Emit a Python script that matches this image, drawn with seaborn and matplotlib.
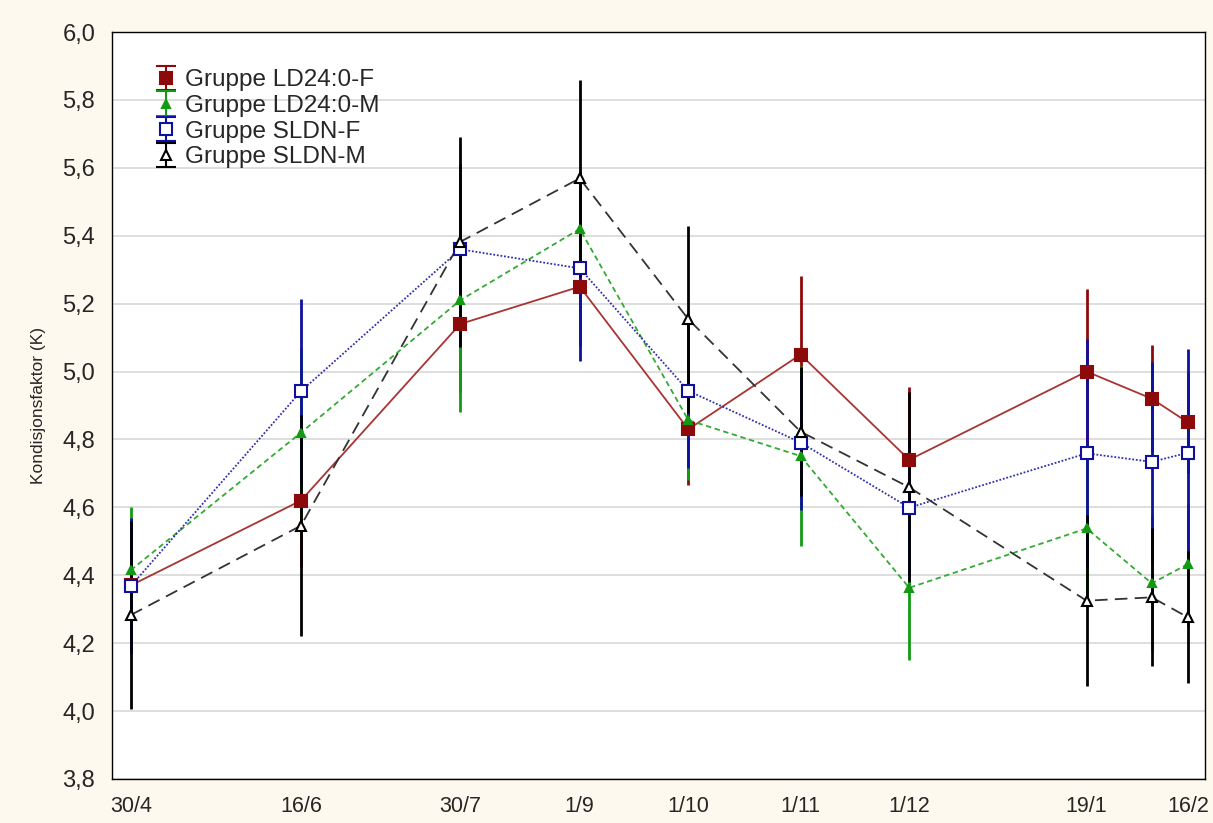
import pandas as pd
import numpy as np
import matplotlib.pyplot as plt
import seaborn as sns

# Datoer for målingene (dag/måned)
dates = ['2007-04-30', '2007-06-16', '2007-07-30', '2007-09-01', '2007-10-01',
         '2007-11-01', '2007-12-01', '2008-01-19', '2008-02-06', '2008-02-16']
tick_labels = ['30/4', '16/6', '30/7', '1/9', '1/10', '1/11', '1/12', '19/1', '', '16/2']

groups = ['Gruppe LD24:0-F', 'Gruppe LD24:0-M', 'Gruppe SLDN-F', 'Gruppe SLDN-M']

# Gjennomsnitt og feilgrenser
ld_f = [4.37, 4.62, 5.14, 5.25, 4.83, 5.05, 4.74, 5.00, 4.92, 4.85]
ld_f_err = [0.15, 0.195, 0.20, 0.175, 0.165, 0.232, 0.213, 0.244, 0.157, 0.15]
ld_m = [4.415, 4.82, 5.21, 5.42, 4.857, 4.751, 4.363, 4.538, 4.376, 4.433]
ld_m_err = [0.185, 0.25, 0.33, 0.172, 0.177, 0.264, 0.213, 0.20, 0.20, 0.181]
sl_f = [4.368, 4.942, 5.36, 5.304, 4.943, 4.791, 4.599, 4.759, 4.734, 4.761]
sl_f_err = [0.20, 0.271, 0.25, 0.273, 0.228, 0.20, 0.20, 0.336, 0.295, 0.304]
sl_m = [4.283, 4.546, 5.382, 5.569, 5.154, 4.823, 4.659, 4.325, 4.335, 4.276]
sl_m_err = [0.277, 0.325, 0.31, 0.29, 0.275, 0.19, 0.28, 0.252, 0.203, 0.194]

means = [ld_f, ld_m, sl_f, sl_m]
errs = [ld_f_err, ld_m_err, sl_f_err, sl_m_err]

x = pd.to_datetime(dates)
df = pd.DataFrame({
    'dato': np.tile(x, len(groups)),
    'K': np.concatenate(means),
    'err': np.concatenate(errs),
    'gruppe': np.repeat(groups, len(dates)),
})

colors = {'Gruppe LD24:0-F': '#8c0a0a', 'Gruppe LD24:0-M': '#129a12',
          'Gruppe SLDN-F': '#10109e', 'Gruppe SLDN-M': '#000000'}
line_colors = {'Gruppe LD24:0-F': '#a83434', 'Gruppe LD24:0-M': '#33aa33',
               'Gruppe SLDN-F': '#3030b0', 'Gruppe SLDN-M': '#333333'}
markers = {'Gruppe LD24:0-F': 's', 'Gruppe LD24:0-M': '^',
           'Gruppe SLDN-F': 's', 'Gruppe SLDN-M': '^'}
msizes = {'Gruppe LD24:0-F': 9, 'Gruppe LD24:0-M': 6,
          'Gruppe SLDN-F': 8, 'Gruppe SLDN-M': 7}
filled = {'Gruppe LD24:0-F': True, 'Gruppe LD24:0-M': True,
          'Gruppe SLDN-F': False, 'Gruppe SLDN-M': False}
dashes = {'Gruppe LD24:0-F': '', 'Gruppe LD24:0-M': (3, 2),
          'Gruppe SLDN-F': (1, 1), 'Gruppe SLDN-M': (7, 4)}

sns.set_theme(style='white')
plt.rcParams['font.family'] = ['Liberation Sans', 'DejaVu Sans']

fig = plt.figure(figsize=(12.13, 8.23), dpi=100, facecolor='#fef9ee')
ax = fig.add_axes([0.0923, 0.0535, 0.9011, 0.9076])
ax.set_facecolor('white')
ax.grid(axis='y', color='#d8d8d8', linewidth=1.2)
ax.set_axisbelow(True)

# Linjer med seaborn
sns.lineplot(data=df, x='dato', y='K', hue='gruppe', style='gruppe',
             palette=line_colors, dashes=dashes, markers=False,
             linewidth=1.3, legend=False, ax=ax, zorder=2)

# Feilstolper og markører
handles = []
for g in groups:
    d = df[df['gruppe'] == g]
    ax.errorbar(d['dato'], d['K'], yerr=d['err'], fmt='none',
                ecolor=colors[g], elinewidth=2, capsize=0, zorder=3)
    ax.plot(d['dato'], d['K'], linestyle='none', marker=markers[g],
            markersize=msizes[g], color=colors[g],
            markerfacecolor=colors[g] if filled[g] else 'white',
            markeredgewidth=1.5, zorder=4)
    h = ax.errorbar([np.nan], [np.nan], yerr=[np.nan], fmt=markers[g],
                    markersize=msizes[g], color=colors[g],
                    markerfacecolor=colors[g] if filled[g] else 'white',
                    markeredgewidth=1.5, ecolor=colors[g], elinewidth=1.5,
                    capsize=7, label=g)
    handles.append(h)

ax.legend(handles=handles, loc='upper left', bbox_to_anchor=(0.039, 0.950),
          frameon=False, fontsize=17.5, handlelength=0.9, handletextpad=0.35,
          labelspacing=0.15, borderaxespad=0, borderpad=0)

ax.set_xlim(x[0] - pd.Timedelta(days=5.2), x[-1] + pd.Timedelta(days=4.7))
ax.set_xticks(x)
ax.set_xticklabels(tick_labels, fontsize=15.5)
yt = np.arange(3.8, 6.01, 0.2)
ax.set_ylim(3.8, 6.0)
ax.set_yticks(yt)
ax.set_yticklabels([f'{v:.1f}'.replace('.', ',') for v in yt], fontsize=17)
ax.tick_params(axis='both', direction='in', length=4, width=1, color='black', pad=12)
ax.set_xlabel('')
ax.set_ylabel('Kondisjonsfaktor (K)', fontsize=12.5, labelpad=12)

for s in ax.spines.values():
    s.set_color('black')
    s.set_linewidth(1)

fig.savefig('out.png', dpi=100, facecolor=fig.get_facecolor())
